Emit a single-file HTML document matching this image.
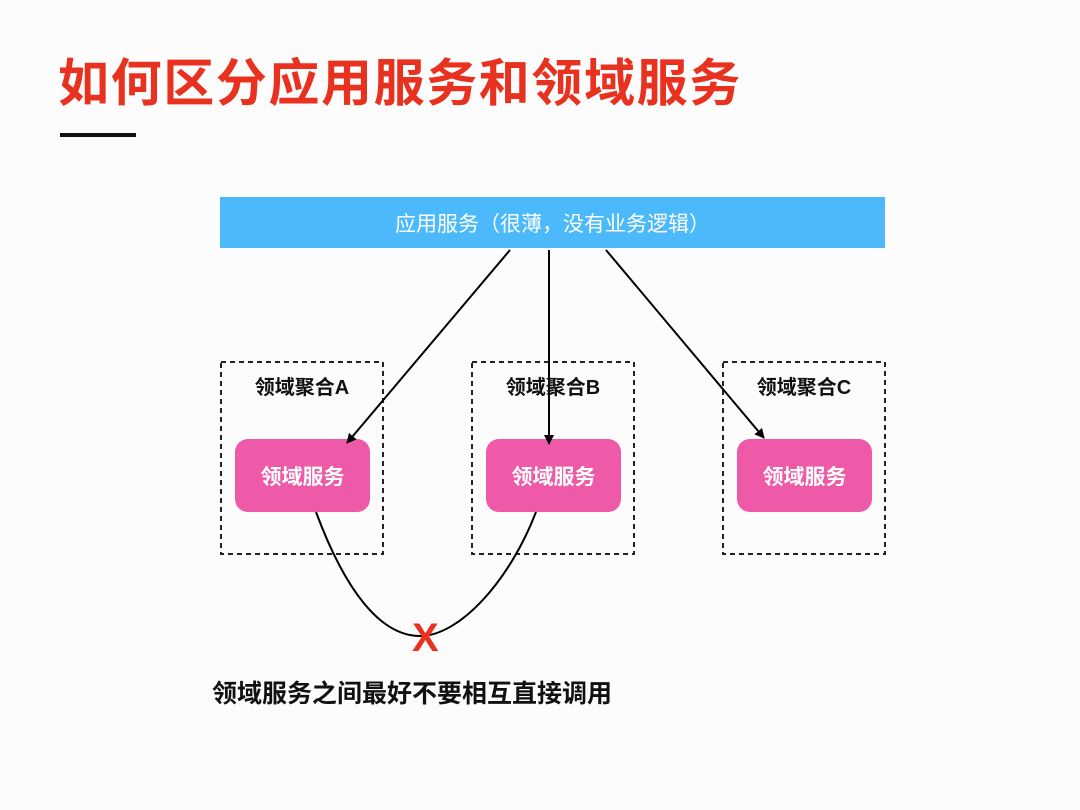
<!DOCTYPE html>
<html><head><meta charset="utf-8"><style>
body{margin:0;width:1080px;height:810px;background:#fcfcfd;position:relative;overflow:hidden;font-family:"Liberation Sans","Noto Sans CJK SC",sans-serif}
.t{position:absolute;white-space:nowrap}
</style></head><body>
<div class="t" style="left:58px;top:42px;font-size:51px;font-weight:bold;color:#e8321f;letter-spacing:1.6px">如何区分应用服务和领域服务</div>
<div style="position:absolute;left:60px;top:133px;width:76px;height:4px;background:#111"></div>
<div style="position:absolute;left:220px;top:197px;width:665px;height:51px;background:#4cb9fb"></div>
<div class="t" style="left:220px;width:665px;text-align:center;top:208px;font-size:21px;color:#fff">应用服务（很薄，没有业务逻辑）</div>
<svg width="1080" height="810" style="position:absolute;left:0;top:0">
<defs><marker id="a" markerWidth="10" markerHeight="10" refX="9" refY="5" orient="auto" markerUnits="userSpaceOnUse"><path d="M0,0 L10,5 L0,10 z" fill="#000"/></marker></defs>
<g fill="none" stroke="#222" stroke-width="2" stroke-dasharray="5,4">
<rect x="221" y="362" width="162" height="192"/>
<rect x="472" y="362" width="162" height="192"/>
<rect x="723" y="362" width="162" height="192"/>
</g>
<g fill="#ee5aa8">
<rect x="235" y="439" width="135" height="73" rx="13"/>
<rect x="486" y="439" width="135" height="73" rx="13"/>
<rect x="737" y="439" width="135" height="73" rx="13"/>
</g>
<g stroke="#000" stroke-width="2" fill="none">
<line x1="510" y1="250" x2="347" y2="443" marker-end="url(#a)"/>
<line x1="549" y1="250" x2="549" y2="444" marker-end="url(#a)"/>
<line x1="606" y1="250" x2="764" y2="438" marker-end="url(#a)"/>
<path d="M316,512 C345,590 380,636 420,636 C460,636 510,580 536,512"/>
</g>
</svg>
<div class="t" style="left:221px;width:162px;text-align:center;top:371px;font-size:20px;font-weight:bold;color:#111">领域聚合A</div>
<div class="t" style="left:472px;width:162px;text-align:center;top:371px;font-size:20px;font-weight:bold;color:#111">领域聚合B</div>
<div class="t" style="left:723px;width:162px;text-align:center;top:371px;font-size:20px;font-weight:bold;color:#111">领域聚合C</div>
<div class="t" style="left:235px;width:135px;text-align:center;top:461px;font-size:21px;font-weight:bold;color:#fff">领域服务</div>
<div class="t" style="left:486px;width:135px;text-align:center;top:461px;font-size:21px;font-weight:bold;color:#fff">领域服务</div>
<div class="t" style="left:737px;width:135px;text-align:center;top:461px;font-size:21px;font-weight:bold;color:#fff">领域服务</div>
<div class="t" style="left:412px;top:618px;font-size:40px;font-weight:bold;color:#e8321f;line-height:40px">X</div>
<div class="t" style="left:212px;top:674px;font-size:25px;font-weight:bold;color:#111">领域服务之间最好不要相互直接调用</div>
</body></html>
